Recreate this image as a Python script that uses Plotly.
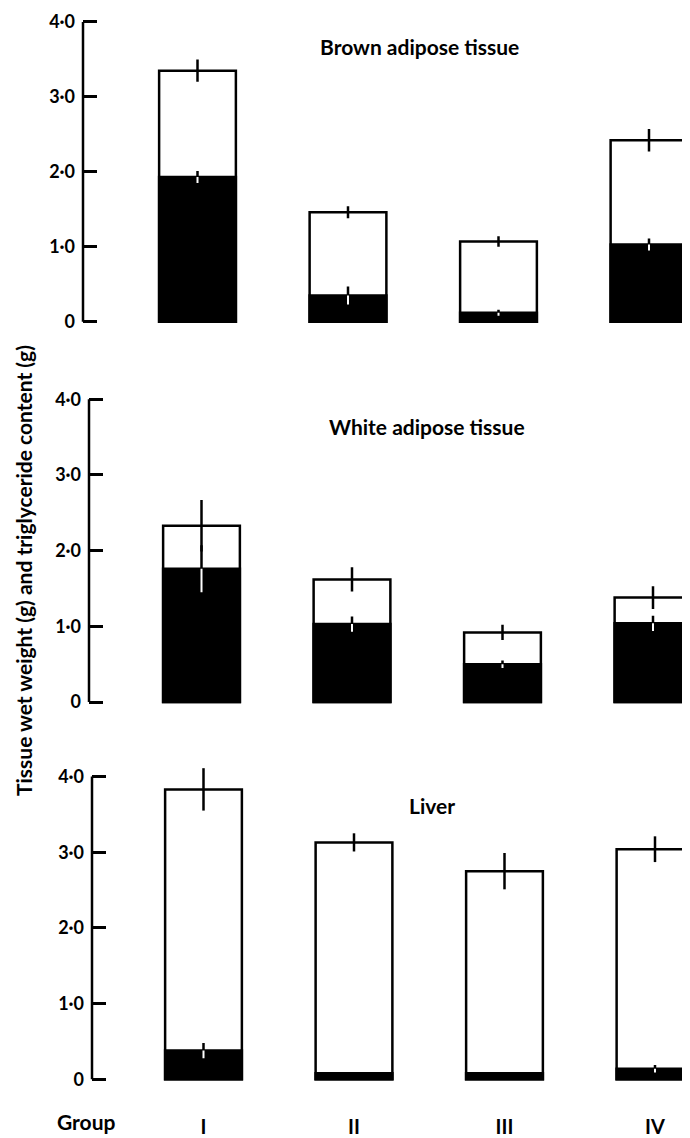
import plotly.graph_objects as go

# ---------------- data ----------------
groups = ["I", "II", "III", "IV"]

bat_wet = [3.35, 1.46, 1.07, 2.42]
bat_wet_err = [0.15, 0.08, 0.07, 0.15]
bat_tg = [1.93, 0.35, 0.12, 1.03]
bat_tg_err = [0.08, 0.12, 0.04, 0.08]

wat_wet = [2.33, 1.62, 0.92, 1.38]
wat_wet_err = [0.34, 0.16, 0.10, 0.15]
wat_tg = [1.76, 1.03, 0.50, 1.04]
wat_tg_err = [0.31, 0.10, 0.05, 0.10]

liver_wet = [3.83, 3.13, 2.75, 3.04]
liver_wet_err = [0.28, 0.12, 0.24, 0.17]
liver_tg = [0.38, 0.08, 0.08, 0.14]
liver_tg_err = [0.10, 0.0, 0.0, 0.05]

panel_titles = ["Brown adipose tissue", "White adipose tissue", "Liver"]
y_tickvals = [0, 1, 2, 3, 4]
y_ticktext = ["0", "1·0", "2·0", "3·0", "4·0"]
y_title = "Tissue wet weight (g) and triglyceride content (g)"
x_title = "Group"

# ---------------- layout helpers ----------------
PAGE_W, PAGE_H = 690, 1138
OFF = 8                      # default page body margin
W, H = PAGE_W - OFF, PAGE_H - OFF
FONT = "Lato"
BAR_W = 0.51
LW = 2.5


def px(xp):
    return (xp - OFF) / W


def py(yp):
    return 1 - (yp - OFF) / H


panels = [
    dict(wet=bat_wet, wet_err=bat_wet_err, tg=bat_tg, tg_err=bat_tg_err,
         p0=324, p4=22, axis_px=83, first_center=197.5,
         title_xy=(419, 47)),
    dict(wet=wat_wet, wet_err=wat_wet_err, tg=wat_tg, tg_err=wat_tg_err,
         p0=707, p4=402, axis_px=89, first_center=201.5,
         title_xy=(427, 429)),
    dict(wet=liver_wet, wet_err=liver_wet_err, tg=liver_tg, tg_err=liver_tg_err,
         p0=1087, p4=782, axis_px=92, first_center=203.5,
         title_xy=(432, 811)),
]

PX_PER_CAT = 150.5
Y_LO, Y_HI = -0.05, 4.3

fig = go.Figure()
layout_axes = {}
shapes = []
annotations = []

for i, p in enumerate(panels):
    n = "" if i == 0 else str(i + 1)
    xa, ya = "x" + n, "y" + n
    s = (p["p0"] - p["p4"]) / 4.0
    pbot = p["p0"] - Y_LO * s
    ptop = max(p["p0"] - Y_HI * s, OFF)
    yhi = (p["p0"] - ptop) / s
    ydom = [py(pbot), py(ptop)]
    xlo = -(p["first_center"] - p["axis_px"]) / PX_PER_CAT
    xhi = xlo + (PAGE_W - p["axis_px"]) / PX_PER_CAT
    xdom = [px(p["axis_px"]), 1.0]

    # white bars: total wet weight
    fig.add_trace(go.Bar(
        x=groups, y=p["wet"], width=BAR_W, xaxis=xa, yaxis=ya,
        marker=dict(color="white", line=dict(color="black", width=LW)),
        error_y=dict(type="data", array=p["wet_err"], symmetric=True,
                     color="black", thickness=LW, width=0),
        showlegend=False, hoverinfo="skip"))
    # black bars: triglyceride content
    fig.add_trace(go.Bar(
        x=groups, y=p["tg"], width=BAR_W, xaxis=xa, yaxis=ya,
        marker=dict(color="black", line=dict(color="black", width=LW)),
        error_y=dict(type="data", array=p["tg_err"], symmetric=True,
                     color="black", thickness=LW, width=0),
        showlegend=False, hoverinfo="skip"))
    # white lower half of the error bar inside the black bar
    fig.add_trace(go.Bar(
        x=groups, y=p["tg"], width=BAR_W, xaxis=xa, yaxis=ya,
        marker=dict(color="rgba(0,0,0,0)", line=dict(width=0)),
        error_y=dict(type="data", array=[0] * len(groups),
                     arrayminus=p["tg_err"], symmetric=False,
                     color="white", thickness=2, width=0),
        showlegend=False, hoverinfo="skip"))

    last = i == len(panels) - 1
    layout_axes["xaxis" + n] = dict(
        domain=xdom, range=[xlo, xhi], type="category",
        anchor=ya, showgrid=False, zeroline=False, showline=False,
        ticks="", showticklabels=last,
        tickfont=dict(family=FONT, size=20, color="black", weight="bold"),
        ticklabelstandoff=30,
    )
    layout_axes["yaxis" + n] = dict(
        domain=ydom, range=[Y_LO, yhi], anchor=xa,
        showgrid=False, zeroline=False, showline=False,
        ticks="inside", ticklen=14, tickwidth=LW, tickcolor="black",
        tickvals=y_tickvals, ticktext=y_ticktext,
        tickfont=dict(family=FONT, size=18, color="black", weight="bold"),
        ticklabelstandoff=7,
    )
    # y spine from 0 to 4.0
    shapes.append(dict(type="line", xref=xa + " domain", yref=ya,
                       x0=0, x1=0, y0=0, y1=4,
                       line=dict(color="black", width=LW)))
    tx, ty = p["title_xy"]
    annotations.append(dict(text=panel_titles[i], xref="paper", yref="paper",
                            x=px(tx), y=py(ty), showarrow=False,
                            xanchor="center", yanchor="middle",
                            font=dict(family=FONT, size=21, color="black",
                                      weight="bold")))

annotations.append(dict(text=y_title, xref="paper", yref="paper",
                        x=px(24), y=py(575), textangle=-90,
                        showarrow=False, xanchor="center", yanchor="middle",
                        font=dict(family=FONT, size=21, color="black",
                                  weight="bold")))
annotations.append(dict(text=x_title, xref="paper", yref="paper",
                        x=px(86), y=py(1129), showarrow=False,
                        xanchor="center", yanchor="middle",
                        font=dict(family=FONT, size=21, color="black",
                                  weight="bold")))

fig.update_layout(
    width=W, height=H,
    margin=dict(l=0, r=0, t=0, b=0),
    paper_bgcolor="white", plot_bgcolor="white",
    barmode="overlay",
    shapes=shapes, annotations=annotations,
    **layout_axes,
)

fig.write_html("out.html")
